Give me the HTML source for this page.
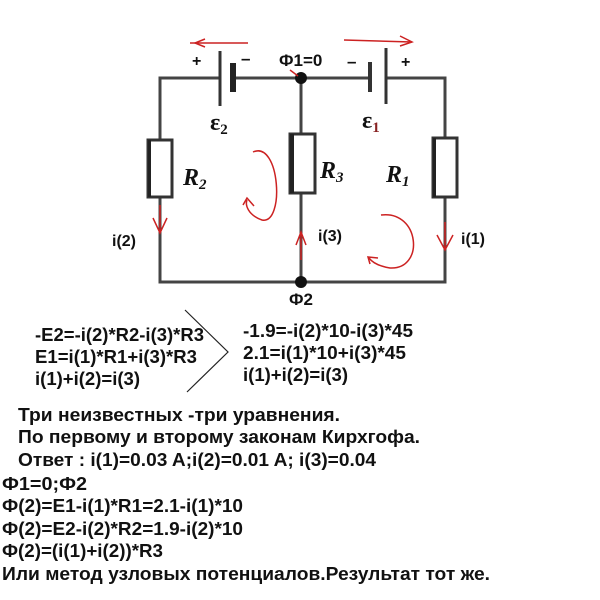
<!DOCTYPE html>
<html><head><meta charset="utf-8"><style>
html,body{margin:0;padding:0;background:#fff;}
svg{display:block}
text{font-family:"Liberation Sans",sans-serif;font-weight:bold;fill:#111;}
</style></head><body>
<svg width="600" height="600" viewBox="0 0 600 600" xmlns="http://www.w3.org/2000/svg">
<g stroke="#444" stroke-width="3" fill="none">
<polyline points="220,78 160,78 160,282 445,282 445,78 386,78"/>
<line x1="233" y1="78" x2="370" y2="78"/>
<line x1="301" y1="78" x2="301" y2="282"/>
</g>
<g fill="#fff" stroke="#333" stroke-width="3">
<rect x="148" y="140" width="24" height="57"/>
<rect x="290" y="134" width="25" height="59"/>
<rect x="433" y="138" width="24" height="59"/>
</g>
<rect x="290" y="134" width="4" height="59" fill="#222"/>
<rect x="148" y="140" width="3" height="57" fill="#222"/>
<rect x="433" y="138" width="3" height="59" fill="#222"/>
<line x1="220" y1="51" x2="220" y2="106" stroke="#333" stroke-width="3"/>
<line x1="233" y1="63" x2="233" y2="92" stroke="#222" stroke-width="6"/>
<line x1="370" y1="62" x2="370" y2="92" stroke="#333" stroke-width="4"/>
<line x1="386" y1="48" x2="386" y2="104" stroke="#333" stroke-width="3"/>
<circle cx="301" cy="78" r="6" fill="#111"/>
<circle cx="301" cy="282" r="6" fill="#111"/>
<g stroke="#c22" stroke-width="1.5" fill="none">
<line x1="190" y1="43" x2="248" y2="43"/><polyline points="205,39 195,43 205,47"/>
<line x1="344" y1="40" x2="412" y2="42"/><polyline points="400,36 412,42 400,46"/>
<path d="M253,152 C280,140 285,225 262,220 C248,215 245,205 247,200"/><polyline points="243,205 247,198 254,206"/>
<path d="M381,215 C420,210 425,270 390,268 C378,266 372,262 369,258"/><polyline points="370,264 368,257 378,258"/>
<line x1="160" y1="205" x2="160" y2="233"/><polyline points="153,218 160,233 167,218"/>
<line x1="445" y1="222" x2="445" y2="250"/><polyline points="437,235 445,250 453,235"/>
<line x1="301" y1="260" x2="301" y2="232"/><polyline points="296,245 301,232 306,245"/>
<line x1="290" y1="70" x2="298" y2="76"/>
</g>
<text x="192" y="66" font-size="16">+</text>
<text x="241" y="64" font-size="17">–</text>
<text x="279" y="66" font-size="17">Ф1=0</text>
<text x="347" y="67" font-size="17">–</text>
<text x="401" y="67" font-size="16">+</text>
<text x="210" y="130" font-size="24" style="font-family:'Liberation Serif',serif" fill="#555">ε<tspan font-size="15" dy="4">2</tspan></text>
<text x="362" y="128" font-size="24" style="font-family:'Liberation Serif',serif" fill="#555">ε<tspan font-size="15" dy="4" fill="#822">1</tspan></text>
<text x="183" y="185" font-size="24" style="font-family:'Liberation Serif',serif;font-style:italic">R<tspan font-size="15" dy="4">2</tspan></text>
<text x="320" y="178" font-size="24" style="font-family:'Liberation Serif',serif;font-style:italic">R<tspan font-size="15" dy="4">3</tspan></text>
<text x="386" y="182" font-size="24" style="font-family:'Liberation Serif',serif;font-style:italic">R<tspan font-size="15" dy="4">1</tspan></text>
<text x="112" y="246" font-size="16">i(2)</text>
<text x="318" y="241" font-size="16">i(3)</text>
<text x="461" y="244" font-size="16">i(1)</text>
<text x="289" y="305" font-size="17">Ф2</text>
<polyline points="185,310 228,352 187,392" stroke="#222" stroke-width="1.2" fill="none"/>
<g font-size="18">
<text x="35" y="341" textLength="169" lengthAdjust="spacingAndGlyphs">-E2=-i(2)*R2-i(3)*R3</text>
<text x="35" y="363" textLength="162" lengthAdjust="spacingAndGlyphs">E1=i(1)*R1+i(3)*R3</text>
<text x="35" y="385" textLength="105" lengthAdjust="spacingAndGlyphs">i(1)+i(2)=i(3)</text>
<text x="243" y="337" textLength="170" lengthAdjust="spacingAndGlyphs">-1.9=-i(2)*10-i(3)*45</text>
<text x="243" y="359" textLength="163" lengthAdjust="spacingAndGlyphs">2.1=i(1)*10+i(3)*45</text>
<text x="243" y="381" textLength="105" lengthAdjust="spacingAndGlyphs">i(1)+i(2)=i(3)</text>
<text x="18" y="421" textLength="322" lengthAdjust="spacingAndGlyphs">Три неизвестных -три уравнения.</text>
<text x="18" y="443" textLength="402" lengthAdjust="spacingAndGlyphs">По первому и второму законам Кирхгофа.</text>
<text x="18" y="466" textLength="358" lengthAdjust="spacingAndGlyphs">Ответ : i(1)=0.03 A;i(2)=0.01 A; i(3)=0.04</text>
<text x="2" y="490" textLength="85" lengthAdjust="spacingAndGlyphs">Ф1=0;Ф2</text>
<text x="2" y="512" textLength="241" lengthAdjust="spacingAndGlyphs">Ф(2)=E1-i(1)*R1=2.1-i(1)*10</text>
<text x="2" y="535" textLength="241" lengthAdjust="spacingAndGlyphs">Ф(2)=E2-i(2)*R2=1.9-i(2)*10</text>
<text x="2" y="557" textLength="161" lengthAdjust="spacingAndGlyphs">Ф(2)=(i(1)+i(2))*R3</text>
<text x="2" y="580" textLength="488" lengthAdjust="spacingAndGlyphs">Или метод узловых потенциалов.Результат тот же.</text>
</g>
</svg>
</body></html>
